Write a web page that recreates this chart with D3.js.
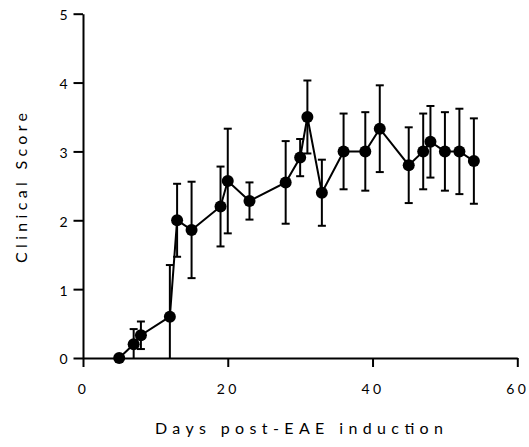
<!DOCTYPE html>
<html>
<head>
<meta charset="utf-8">
<script src="https://cdn.jsdelivr.net/npm/d3@7/dist/d3.min.js"></script>
<style>
  html, body { margin: 0; padding: 0; background: #fff; }
  svg { display: block; }
  text { font-family: Lato, "Liberation Sans", sans-serif; fill: #000; }
</style>
</head>
<body>
<svg id="chart" width="529" height="447"></svg>
<script>
const days   = [5, 7, 8, 12, 13, 15, 19, 20, 23, 28, 30, 31, 33, 36, 39, 41, 45, 47, 48, 50, 52, 54];
const scores = [0, 0.2, 0.33, 0.6, 2.0, 1.86, 2.2, 2.57, 2.28, 2.55, 2.91, 3.5, 2.4, 3.0, 3.0, 3.33, 2.8, 3.0, 3.14, 3.0, 3.0, 2.86];
const errors = [0, 0.22, 0.2, 0.75, 0.53, 0.7, 0.58, 0.76, 0.27, 0.6, 0.27, 0.53, 0.48, 0.55, 0.57, 0.63, 0.55, 0.55, 0.52, 0.57, 0.62, 0.62];
const xTicks = [0, 20, 40, 60];
const yTicks = [0, 1, 2, 3, 4, 5];
const xTitle = "Days post-EAE induction";
const yTitle = "Clinical Score";

const data = days.map((d, i) => ({ d, v: scores[i], e: errors[i] }));

const svg = d3.select("#chart");
const x = d3.scaleLinear().domain([0, 60]).range([83, 517.3]);
const y = d3.scaleLinear().domain([0, 5]).range([358, 13.7]);

// axes
const xAxis = svg.append("g").attr("transform", `translate(0,${y(0)})`)
  .call(d3.axisBottom(x).tickValues(xTicks).tickFormat(d3.format("d")).tickSize(9).tickSizeOuter(0).tickPadding(17));
const yAxis = svg.append("g").attr("transform", `translate(${x(0)},0)`)
  .call(d3.axisLeft(y).tickValues(yTicks).tickFormat(d3.format("d")).tickSize(9.5).tickSizeOuter(0).tickPadding(6));

[xAxis, yAxis].forEach(g => {
  g.select(".domain").attr("stroke", "#000").attr("stroke-width", 2);
  g.selectAll(".tick line").attr("stroke", "#000").attr("stroke-width", 2);
  g.selectAll(".tick text").attr("font-family", "Lato, 'Liberation Sans', sans-serif")
    .attr("font-size", 14).attr("fill", "#000");
});
xAxis.selectAll(".tick text").style("letter-spacing", "3.5px");
yAxis.selectAll(".tick text").attr("dy", "0.42em");

// error bars
const eb = svg.append("g").attr("stroke", "#000").attr("stroke-width", 2).attr("fill", "none");
data.filter(p => p.e > 0).forEach(p => {
  const top = p.v + p.e, bot = Math.max(0, p.v - p.e);
  eb.append("line").attr("x1", x(p.d)).attr("x2", x(p.d)).attr("y1", y(top)).attr("y2", y(bot));
  eb.append("line").attr("x1", x(p.d) - 4).attr("x2", x(p.d) + 4).attr("y1", y(top)).attr("y2", y(top));
  if (p.v - p.e > 0)
    eb.append("line").attr("x1", x(p.d) - 4).attr("x2", x(p.d) + 4).attr("y1", y(bot)).attr("y2", y(bot));
});

// line
svg.append("path").datum(data)
  .attr("fill", "none").attr("stroke", "#000").attr("stroke-width", 2)
  .attr("d", d3.line().x(p => x(p.d)).y(p => y(p.v)));

// points
svg.append("g").selectAll("circle").data(data).join("circle")
  .attr("cx", p => x(p.d)).attr("cy", p => y(p.v)).attr("r", 6).attr("fill", "#000");

// titles
svg.append("text").attr("x", 299).attr("y", 433.5).attr("text-anchor", "middle")
  .attr("font-size", 16).attr("textLength", 288).attr("lengthAdjust", "spacing").text(xTitle);
svg.append("text").attr("transform", "translate(27,188) rotate(-90)").attr("text-anchor", "middle")
  .attr("font-size", 16).attr("textLength", 150).attr("lengthAdjust", "spacing").text(yTitle);
</script>
</body>
</html>
